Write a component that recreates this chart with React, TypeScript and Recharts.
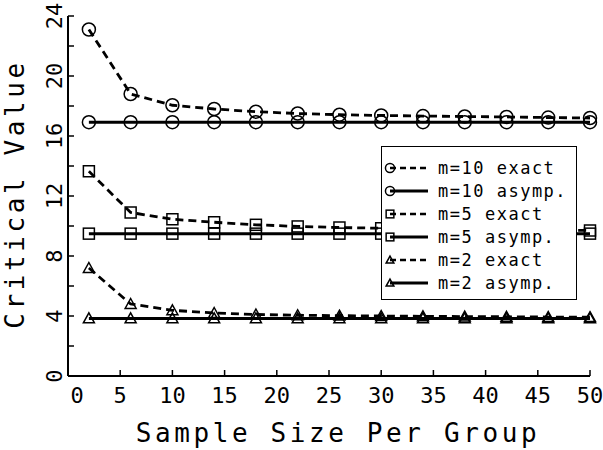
import { LineChart, Line, XAxis, YAxis, Legend, Label } from "recharts";

const sampleSizes = [2, 6, 10, 14, 18, 22, 26, 30, 34, 38, 42, 46, 50];
const m10Exact = [23.1, 18.8, 18.05, 17.8, 17.62, 17.5, 17.42, 17.37, 17.33, 17.3, 17.27, 17.23, 17.2];
const m10Asymp = [16.92, 16.92, 16.92, 16.92, 16.92, 16.92, 16.92, 16.92, 16.92, 16.92, 16.92, 16.92, 16.92];
const m5Exact = [13.65, 10.9, 10.45, 10.25, 10.08, 9.97, 9.9, 9.85, 9.8, 9.78, 9.75, 9.72, 9.7];
const m5Asymp = [9.49, 9.49, 9.49, 9.49, 9.49, 9.49, 9.49, 9.49, 9.49, 9.49, 9.49, 9.49, 9.49];
const m2Exact = [7.2, 4.8, 4.38, 4.2, 4.1, 4.05, 4.02, 4.0, 3.98, 3.96, 3.95, 3.93, 3.92];
const m2Asymp = [3.84, 3.84, 3.84, 3.84, 3.84, 3.84, 3.84, 3.84, 3.84, 3.84, 3.84, 3.84, 3.84];

const xTicks = [0, 5, 10, 15, 20, 25, 30, 35, 40, 45, 50];
const yTicks = [0, 2, 4, 6, 8, 10, 12, 14, 16, 18, 20, 22, 24];

const series = [
  { key: "m10e", name: "m=10 exact", shape: "circle", dashed: true },
  { key: "m10a", name: "m=10 asymp.", shape: "circle", dashed: false },
  { key: "m5e", name: "m=5 exact", shape: "square", dashed: true },
  { key: "m5a", name: "m=5 asymp.", shape: "square", dashed: false },
  { key: "m2e", name: "m=2 exact", shape: "triangle", dashed: true },
  { key: "m2a", name: "m=2 asymp.", shape: "triangle", dashed: false },
];

const data = sampleSizes.map((n, i) => ({
  n,
  m10e: m10Exact[i],
  m10a: m10Asymp[i],
  m5e: m5Exact[i],
  m5a: m5Asymp[i],
  m2e: m2Exact[i],
  m2a: m2Asymp[i],
}));

const FONT = "'DejaVu Sans Mono', monospace";
const DASH = "8 5";

function Marker({ shape, cx, cy, s = 1 }: { shape: string; cx: number; cy: number; s?: number }) {
  if (shape === "circle") {
    return <circle cx={cx} cy={cy} r={6.5 * s} fill="none" stroke="#000" strokeWidth={1.5} />;
  }
  if (shape === "square") {
    const h = 5.5 * s;
    return <rect x={cx - h} y={cy - h} width={h * 2} height={h * 2} fill="none" stroke="#000" strokeWidth={1.5} />;
  }
  const h = 5.5 * s;
  return (
    <path
      d={`M${cx},${cy - h} L${cx + h},${cy + h * 0.8} L${cx - h},${cy + h * 0.8} Z`}
      fill="none"
      stroke="#000"
      strokeWidth={1.5}
    />
  );
}

const makeDot = (shape: string) => (props: any) => {
  const { cx, cy, index } = props;
  if (cx == null || cy == null) return <g key={index} />;
  return <Marker key={index} shape={shape} cx={cx} cy={cy} />;
};

function BottomTick({ x, y, payload }: any) {
  const dx = payload.value === 0 ? 9 : 0;
  return (
    <g>
      <line x1={x} y1={y} x2={x} y2={y - 6} stroke="#000" strokeWidth={1.5} />
      <text x={x + dx} y={y + 27} textAnchor="middle" fontFamily={FONT} fontSize={22} fill="#000">
        {payload.value}
      </text>
    </g>
  );
}

function TopTick({ x, y }: any) {
  return <line x1={x} y1={y} x2={x} y2={y + 6} stroke="#000" strokeWidth={1.5} />;
}

function LeftTick({ x, y, payload }: any) {
  const show = payload.value % 4 === 0;
  return (
    <g>
      <line x1={x} y1={y} x2={x + 6} y2={y} stroke="#000" strokeWidth={1.5} />
      {show && (
        <text
          x={x - 14}
          y={y}
          transform={`rotate(-90 ${x - 14} ${y})`}
          textAnchor="middle"
          dominantBaseline="central"
          fontFamily={FONT}
          fontSize={22}
          fill="#000"
        >
          {payload.value}
        </text>
      )}
    </g>
  );
}

function RightTick({ x, y }: any) {
  return <line x1={x} y1={y} x2={x - 6} y2={y} stroke="#000" strokeWidth={1.5} />;
}

function LegendBox() {
  return (
    <div
      style={{
        width: 196,
        height: 154,
        border: "1px solid #000",
        background: "#fff",
        paddingTop: 9,
        boxSizing: "border-box",
      }}
    >
      {series.map((s) => (
        <div key={s.key} style={{ display: "flex", alignItems: "center", height: 23 }}>
          <svg width={56} height={23}>
            <line
              x1={8}
              y1={12}
              x2={46}
              y2={12}
              stroke="#000"
              strokeWidth={s.dashed ? 2.5 : 3}
              strokeDasharray={s.dashed ? "6 4" : undefined}
            />
            <Marker shape={s.shape} cx={8} cy={12} s={0.7} />
          </svg>
          <span style={{ fontFamily: FONT, fontSize: 17, letterSpacing: 1.5, color: "#000" }}>{s.name}</span>
        </div>
      ))}
    </div>
  );
}

export default function App() {
  return (
    <div style={{ position: "absolute", left: 0, top: 0, background: "#fff" }}>
      <LineChart width={603} height={450} data={data} margin={{ top: 16, right: 13, bottom: 0, left: 8 }}>
        <XAxis
          dataKey="n"
          type="number"
          domain={[0, 50]}
          ticks={xTicks}
          tickSize={0}
          tickMargin={0}
          height={74}
          stroke="#000"
          strokeWidth={2}
          tick={<BottomTick />}
        >
          <Label
            content={() => (
              <text x={338} y={442} textAnchor="middle" fontFamily={FONT} fontSize={26} letterSpacing={3.6} fill="#000">
                Sample Size Per Group
              </text>
            )}
          />
        </XAxis>
        <XAxis
          xAxisId="top"
          orientation="top"
          dataKey="n"
          type="number"
          domain={[0, 50]}
          ticks={xTicks}
          tickSize={0}
          tickMargin={0}
          height={0}
          stroke="#000"
          strokeWidth={2}
          tick={<TopTick />}
        />
        <YAxis
          type="number"
          domain={[0, 24]}
          ticks={yTicks}
          tickSize={0}
          tickMargin={0}
          width={60}
          stroke="#000"
          strokeWidth={2}
          tick={<LeftTick />}
        >
          <Label
            content={() => (
              <text
                x={24}
                y={194}
                transform="rotate(-90 24 194)"
                textAnchor="middle"
                fontFamily={FONT}
                fontSize={26}
                letterSpacing={3.6}
                fill="#000"
              >
                Critical Value
              </text>
            )}
          />
        </YAxis>
        <YAxis
          yAxisId="right"
          orientation="right"
          type="number"
          domain={[0, 24]}
          ticks={yTicks}
          tickSize={0}
          tickMargin={0}
          width={0}
          stroke="#000"
          strokeWidth={2}
          tick={<RightTick />}
        />
        {series.map((s) => (
          <Line
            key={s.key}
            dataKey={s.key}
            name={s.name}
            type="linear"
            stroke="#000"
            strokeWidth={s.dashed ? 2.8 : 3}
            strokeDasharray={s.dashed ? DASH : undefined}
            dot={makeDot(s.shape)}
            activeDot={false}
            isAnimationActive={false}
          />
        ))}
        <Legend
          layout="vertical"
          align="center"
          verticalAlign="middle"
          content={() => <LegendBox />}
          wrapperStyle={{ left: 381, top: 146, width: 196, height: 154 }}
        />
      </LineChart>
    </div>
  );
}
